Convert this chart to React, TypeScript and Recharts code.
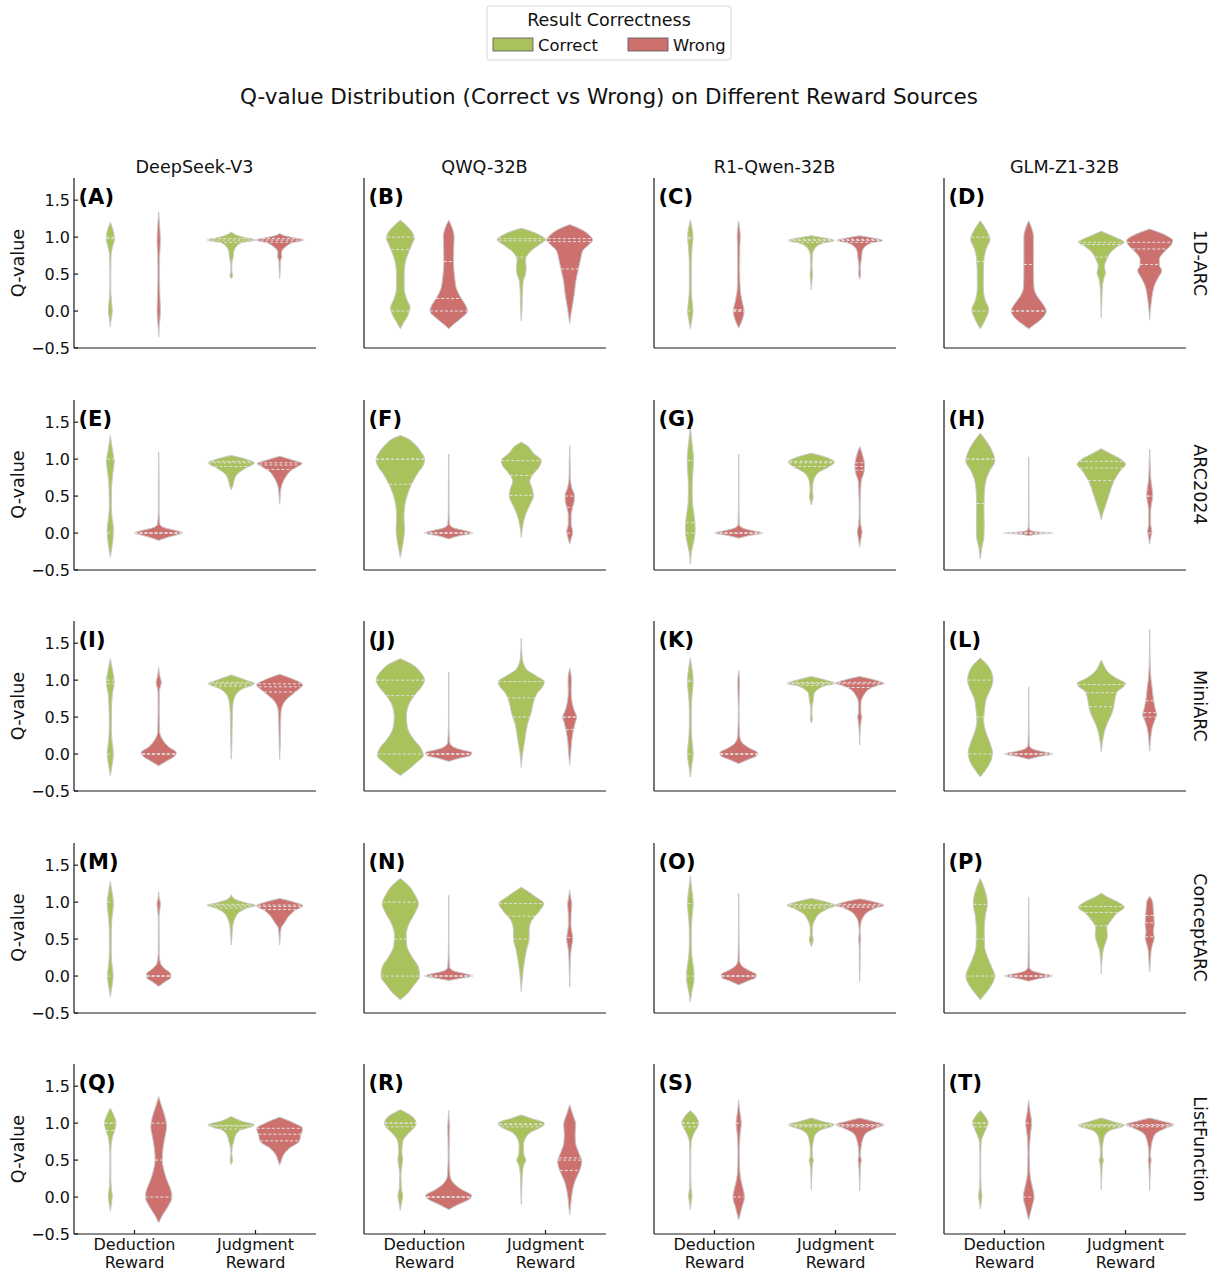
import React from 'react';
import { ComposedChart, Area, XAxis, YAxis, ReferenceLine } from 'recharts';

type Knot = [number, number]; // [Q-value, half width in category units]

const models = ['DeepSeek-V3', 'QWQ-32B', 'R1-Qwen-32B', 'GLM-Z1-32B'];
const datasets = ['1D-ARC', 'ARC2024', 'MiniARC', 'ConceptARC', 'ListFunction'];
const letters = 'ABCDEFGHIJKLMNOPQRST'.split('');
const rewardSources = [['Deduction', 'Reward'], ['Judgment', 'Reward']];
const hues = ['Correct', 'Wrong'];
const yTicks = [-0.5, 0, 0.5, 1, 1.5];

const GREEN = '#a9c25b';
const RED = '#cd716e';
const FONT = 'DejaVu Sans, Verdana, sans-serif';

// violin outlines; order: deduction-correct, deduction-wrong, judgment-correct, judgment-wrong
const panelA: Knot[][] = [
  [[-0.21, 0], [-0.12, 0.006], [0, 0.016], [0.1, 0.012], [0.25, 0.004], [0.5, 0.003], [0.75, 0.006], [0.88, 0.02], [0.98, 0.035], [1.08, 0.025], [1.2, 0]],
  [[-0.35, 0], [-0.2, 0.005], [0, 0.014], [0.2, 0.01], [0.5, 0.006], [0.75, 0.008], [0.95, 0.014], [1.15, 0.008], [1.34, 0]],
  [[0.44, 0], [0.48, 0.012], [0.53, 0.004], [0.65, 0.005], [0.73, 0.016], [0.8, 0.02], [0.88, 0.045], [0.93, 0.1], [0.96, 0.2], [0.99, 0.12], [1.03, 0.04], [1.07, 0]],
  [[0.44, 0], [0.55, 0.004], [0.68, 0.006], [0.73, 0.018], [0.79, 0.015], [0.87, 0.05], [0.93, 0.12], [0.96, 0.2], [0.99, 0.12], [1.02, 0.04], [1.05, 0]],
];
const panelB: Knot[][] = [
  [[-0.24, 0], [-0.15, 0.03], [-0.05, 0.065], [0.05, 0.08], [0.15, 0.055], [0.3, 0.032], [0.5, 0.032], [0.65, 0.04], [0.8, 0.07], [0.92, 0.1], [0.98, 0.115], [1.06, 0.1], [1.15, 0.055], [1.23, 0]],
  [[-0.24, 0], [-0.18, 0.04], [-0.1, 0.1], [0, 0.155], [0.08, 0.14], [0.18, 0.1], [0.3, 0.065], [0.45, 0.05], [0.65, 0.04], [0.85, 0.042], [1.0, 0.045], [1.12, 0.03], [1.23, 0]],
  [[-0.13, 0], [0.0, 0.005], [0.2, 0.008], [0.4, 0.015], [0.5, 0.035], [0.58, 0.04], [0.68, 0.035], [0.8, 0.07], [0.9, 0.15], [0.965, 0.2], [1.03, 0.15], [1.08, 0.08], [1.12, 0]],
  [[-0.17, 0], [-0.05, 0.01], [0.1, 0.025], [0.25, 0.04], [0.4, 0.05], [0.55, 0.07], [0.7, 0.09], [0.82, 0.11], [0.9, 0.16], [0.96, 0.19], [1.03, 0.16], [1.1, 0.1], [1.17, 0]],
];
const panelC: Knot[][] = [
  [[-0.24, 0], [-0.12, 0.012], [0, 0.022], [0.12, 0.015], [0.3, 0.008], [0.6, 0.008], [0.85, 0.014], [1.0, 0.022], [1.12, 0.014], [1.23, 0]],
  [[-0.23, 0], [-0.14, 0.025], [0, 0.045], [0.12, 0.03], [0.3, 0.012], [0.6, 0.008], [0.9, 0.01], [1.0, 0.013], [1.12, 0.008], [1.22, 0]],
  [[0.29, 0], [0.4, 0.005], [0.5, 0.01], [0.6, 0.005], [0.75, 0.008], [0.85, 0.03], [0.92, 0.1], [0.955, 0.19], [0.985, 0.12], [1.02, 0]],
  [[0.43, 0], [0.5, 0.008], [0.6, 0.006], [0.72, 0.015], [0.8, 0.02], [0.88, 0.05], [0.93, 0.12], [0.955, 0.19], [0.985, 0.12], [1.02, 0]],
];
const panelD: Knot[][] = [
  [[-0.24, 0], [-0.12, 0.04], [0.02, 0.07], [0.15, 0.04], [0.3, 0.025], [0.5, 0.025], [0.7, 0.03], [0.85, 0.05], [0.97, 0.08], [1.08, 0.055], [1.22, 0]],
  [[-0.24, 0], [-0.18, 0.05], [-0.1, 0.11], [0, 0.145], [0.1, 0.115], [0.2, 0.07], [0.3, 0.045], [0.5, 0.04], [0.8, 0.04], [1.0, 0.04], [1.12, 0.025], [1.22, 0]],
  [[-0.09, 0], [0.1, 0.004], [0.3, 0.008], [0.43, 0.018], [0.52, 0.035], [0.6, 0.025], [0.7, 0.045], [0.8, 0.08], [0.88, 0.14], [0.93, 0.19], [0.98, 0.14], [1.03, 0.07], [1.08, 0]],
  [[-0.125, 0], [0.05, 0.008], [0.2, 0.02], [0.35, 0.04], [0.45, 0.07], [0.55, 0.1], [0.62, 0.08], [0.7, 0.08], [0.8, 0.12], [0.9, 0.18], [0.955, 0.19], [1.02, 0.14], [1.11, 0]],
];
const panelE: Knot[][] = [
  [[-0.33, 0], [-0.2, 0.012], [-0.05, 0.024], [0.05, 0.026], [0.2, 0.015], [0.4, 0.008], [0.6, 0.01], [0.8, 0.02], [0.97, 0.032], [1.1, 0.02], [1.32, 0]],
  [[-0.1, 0], [-0.06, 0.07], [-0.02, 0.16], [0.0, 0.2], [0.03, 0.15], [0.07, 0.05], [0.12, 0.01], [0.3, 0.003], [0.7, 0.003], [1.09, 0]],
  [[0.585, 0], [0.65, 0.015], [0.72, 0.025], [0.8, 0.05], [0.88, 0.12], [0.95, 0.19], [1.0, 0.12], [1.05, 0]],
  [[0.39, 0], [0.5, 0.005], [0.6, 0.01], [0.68, 0.025], [0.76, 0.05], [0.84, 0.09], [0.9, 0.15], [0.94, 0.185], [0.99, 0.1], [1.04, 0]],
];
const panelF: Knot[][] = [
  [[-0.33, 0], [-0.2, 0.015], [-0.05, 0.03], [0.05, 0.035], [0.2, 0.03], [0.35, 0.035], [0.5, 0.055], [0.65, 0.09], [0.8, 0.14], [0.92, 0.19], [1.0, 0.2], [1.1, 0.17], [1.2, 0.12], [1.28, 0.06], [1.32, 0]],
  [[-0.08, 0], [-0.04, 0.08], [0, 0.2], [0.03, 0.14], [0.07, 0.04], [0.12, 0.008], [0.3, 0.003], [0.8, 0.002], [1.07, 0]],
  [[-0.06, 0], [0.1, 0.012], [0.25, 0.035], [0.38, 0.07], [0.5, 0.1], [0.6, 0.09], [0.7, 0.07], [0.8, 0.1], [0.9, 0.15], [0.98, 0.165], [1.08, 0.1], [1.18, 0.05], [1.23, 0]],
  [[-0.15, 0], [-0.08, 0.012], [0.02, 0.025], [0.12, 0.012], [0.25, 0.012], [0.35, 0.025], [0.45, 0.038], [0.52, 0.038], [0.6, 0.02], [0.75, 0.005], [1.0, 0.003], [1.18, 0]],
];
const panelG: Knot[][] = [
  [[-0.42, 0], [-0.25, 0.01], [-0.1, 0.03], [0.05, 0.04], [0.2, 0.035], [0.4, 0.018], [0.6, 0.015], [0.8, 0.02], [1.0, 0.026], [1.2, 0.015], [1.43, 0]],
  [[-0.07, 0], [-0.03, 0.1], [0, 0.2], [0.03, 0.12], [0.07, 0.03], [0.12, 0.005], [0.4, 0.002], [1.07, 0]],
  [[0.38, 0], [0.45, 0.01], [0.5, 0.015], [0.56, 0.01], [0.65, 0.012], [0.74, 0.025], [0.82, 0.06], [0.9, 0.15], [0.96, 0.19], [1.02, 0.13], [1.08, 0]],
  [[-0.19, 0], [-0.08, 0.01], [0.02, 0.02], [0.12, 0.008], [0.3, 0.004], [0.5, 0.006], [0.7, 0.012], [0.82, 0.035], [0.92, 0.04], [1.02, 0.03], [1.17, 0]],
];
const panelH: Knot[][] = [
  [[-0.35, 0], [-0.2, 0.012], [-0.05, 0.03], [0.1, 0.032], [0.3, 0.03], [0.5, 0.032], [0.7, 0.045], [0.85, 0.08], [0.97, 0.12], [1.1, 0.1], [1.22, 0.06], [1.35, 0]],
  [[-0.035, 0], [-0.015, 0.08], [0, 0.2], [0.015, 0.08], [0.04, 0.01], [0.1, 0.003], [0.5, 0.002], [1.03, 0]],
  [[0.18, 0], [0.25, 0.01], [0.35, 0.03], [0.45, 0.05], [0.55, 0.07], [0.65, 0.09], [0.75, 0.12], [0.85, 0.16], [0.93, 0.2], [1.0, 0.16], [1.07, 0.08], [1.14, 0]],
  [[-0.15, 0], [-0.05, 0.01], [0.02, 0.018], [0.12, 0.008], [0.3, 0.008], [0.42, 0.018], [0.5, 0.026], [0.6, 0.02], [0.75, 0.008], [0.95, 0.004], [1.135, 0]],
];
const panelI: Knot[][] = [
  [[-0.29, 0], [-0.15, 0.014], [0, 0.026], [0.15, 0.016], [0.35, 0.008], [0.6, 0.01], [0.8, 0.016], [0.97, 0.032], [1.12, 0.02], [1.29, 0]],
  [[-0.16, 0], [-0.1, 0.06], [-0.03, 0.13], [0.02, 0.145], [0.1, 0.08], [0.2, 0.03], [0.3, 0.008], [0.6, 0.005], [0.85, 0.006], [0.97, 0.022], [1.05, 0.01], [1.17, 0]],
  [[-0.07, 0], [0.1, 0.004], [0.3, 0.006], [0.5, 0.008], [0.65, 0.012], [0.78, 0.03], [0.88, 0.09], [0.955, 0.19], [1.0, 0.12], [1.07, 0]],
  [[-0.07, 0], [0.1, 0.004], [0.3, 0.006], [0.55, 0.01], [0.68, 0.03], [0.76, 0.07], [0.84, 0.13], [0.94, 0.19], [1.0, 0.13], [1.08, 0]],
];
const panelJ: Knot[][] = [
  [[-0.29, 0], [-0.22, 0.06], [-0.12, 0.13], [-0.02, 0.19], [0.08, 0.17], [0.2, 0.11], [0.35, 0.06], [0.5, 0.05], [0.65, 0.065], [0.8, 0.12], [0.92, 0.18], [1.0, 0.2], [1.12, 0.16], [1.22, 0.09], [1.29, 0]],
  [[-0.1, 0], [-0.06, 0.08], [-0.02, 0.18], [0.02, 0.19], [0.06, 0.1], [0.1, 0.035], [0.16, 0.008], [0.4, 0.002], [1.11, 0]],
  [[-0.18, 0], [0.0, 0.01], [0.2, 0.03], [0.4, 0.05], [0.55, 0.08], [0.7, 0.1], [0.82, 0.13], [0.92, 0.18], [0.98, 0.19], [1.06, 0.12], [1.15, 0.04], [1.3, 0.008], [1.57, 0]],
  [[-0.15, 0], [0.0, 0.008], [0.15, 0.015], [0.3, 0.028], [0.42, 0.045], [0.5, 0.058], [0.6, 0.035], [0.7, 0.02], [0.85, 0.012], [1.0, 0.014], [1.16, 0]],
];
const panelK: Knot[][] = [
  [[-0.31, 0], [-0.15, 0.012], [0, 0.024], [0.15, 0.016], [0.35, 0.008], [0.6, 0.008], [0.8, 0.014], [0.98, 0.024], [1.15, 0.014], [1.3, 0]],
  [[-0.13, 0], [-0.08, 0.07], [-0.02, 0.15], [0.02, 0.155], [0.08, 0.09], [0.15, 0.03], [0.25, 0.008], [0.6, 0.003], [0.97, 0.008], [1.13, 0]],
  [[0.42, 0], [0.48, 0.008], [0.55, 0.004], [0.65, 0.006], [0.72, 0.016], [0.8, 0.02], [0.87, 0.05], [0.93, 0.13], [0.955, 0.2], [1.0, 0.12], [1.05, 0]],
  [[0.12, 0], [0.3, 0.004], [0.45, 0.012], [0.5, 0.018], [0.56, 0.01], [0.68, 0.01], [0.8, 0.035], [0.88, 0.08], [0.93, 0.15], [0.955, 0.2], [1.0, 0.13], [1.05, 0]],
];
const panelL: Knot[][] = [
  [[-0.31, 0], [-0.2, 0.05], [-0.08, 0.09], [0.02, 0.1], [0.15, 0.08], [0.3, 0.045], [0.45, 0.028], [0.6, 0.035], [0.75, 0.05], [0.9, 0.09], [1.0, 0.105], [1.12, 0.09], [1.22, 0.05], [1.3, 0]],
  [[-0.07, 0], [-0.03, 0.1], [0, 0.2], [0.03, 0.12], [0.07, 0.03], [0.12, 0.006], [0.4, 0.002], [0.91, 0]],
  [[0.03, 0], [0.15, 0.008], [0.3, 0.025], [0.42, 0.05], [0.52, 0.08], [0.62, 0.1], [0.72, 0.11], [0.84, 0.13], [0.92, 0.19], [0.955, 0.2], [1.02, 0.13], [1.1, 0.06], [1.2, 0.02], [1.27, 0]],
  [[0.04, 0], [0.2, 0.008], [0.35, 0.02], [0.45, 0.04], [0.53, 0.058], [0.62, 0.045], [0.75, 0.03], [0.9, 0.02], [1.0, 0.012], [1.2, 0.004], [1.69, 0]],
];
const panelM: Knot[][] = [
  [[-0.28, 0], [-0.15, 0.012], [0, 0.024], [0.15, 0.014], [0.35, 0.007], [0.6, 0.008], [0.8, 0.014], [0.98, 0.026], [1.12, 0.016], [1.28, 0]],
  [[-0.14, 0], [-0.08, 0.05], [-0.02, 0.1], [0.03, 0.1], [0.1, 0.05], [0.17, 0.015], [0.3, 0.004], [0.8, 0.003], [0.98, 0.015], [1.05, 0.005], [1.14, 0]],
  [[0.42, 0], [0.55, 0.006], [0.68, 0.012], [0.78, 0.03], [0.87, 0.07], [0.93, 0.15], [0.955, 0.2], [0.99, 0.12], [1.04, 0.03], [1.1, 0]],
  [[0.42, 0], [0.55, 0.005], [0.65, 0.012], [0.72, 0.04], [0.8, 0.07], [0.88, 0.12], [0.955, 0.19], [1.0, 0.12], [1.05, 0]],
];
const panelN: Knot[][] = [
  [[-0.32, 0], [-0.25, 0.05], [-0.13, 0.11], [0, 0.16], [0.12, 0.15], [0.25, 0.1], [0.4, 0.055], [0.55, 0.048], [0.7, 0.07], [0.85, 0.12], [0.98, 0.15], [1.1, 0.12], [1.22, 0.07], [1.32, 0]],
  [[-0.06, 0], [-0.03, 0.1], [0, 0.2], [0.03, 0.14], [0.07, 0.04], [0.12, 0.008], [0.4, 0.002], [1.09, 0]],
  [[-0.21, 0], [0.0, 0.01], [0.2, 0.026], [0.37, 0.045], [0.5, 0.065], [0.62, 0.065], [0.75, 0.085], [0.88, 0.15], [0.98, 0.185], [1.08, 0.11], [1.15, 0.05], [1.2, 0]],
  [[-0.15, 0], [0.1, 0.004], [0.3, 0.008], [0.42, 0.018], [0.5, 0.026], [0.58, 0.02], [0.7, 0.01], [0.85, 0.012], [0.97, 0.018], [1.05, 0.01], [1.16, 0]],
];
const panelO: Knot[][] = [
  [[-0.35, 0], [-0.2, 0.014], [-0.05, 0.03], [0.05, 0.03], [0.2, 0.018], [0.4, 0.008], [0.6, 0.008], [0.8, 0.014], [0.98, 0.024], [1.15, 0.014], [1.35, 0]],
  [[-0.12, 0], [-0.07, 0.07], [-0.02, 0.14], [0.02, 0.145], [0.08, 0.08], [0.14, 0.025], [0.22, 0.006], [0.6, 0.002], [1.12, 0]],
  [[0.4, 0], [0.46, 0.012], [0.5, 0.016], [0.56, 0.008], [0.66, 0.01], [0.76, 0.03], [0.85, 0.07], [0.92, 0.15], [0.955, 0.2], [1.0, 0.13], [1.05, 0]],
  [[-0.07, 0], [0.1, 0.003], [0.4, 0.004], [0.5, 0.008], [0.6, 0.004], [0.72, 0.01], [0.8, 0.03], [0.87, 0.07], [0.93, 0.15], [0.955, 0.2], [1.0, 0.13], [1.045, 0]],
];
const panelP: Knot[][] = [
  [[-0.32, 0], [-0.22, 0.05], [-0.1, 0.1], [0, 0.12], [0.1, 0.1], [0.25, 0.06], [0.4, 0.035], [0.6, 0.032], [0.8, 0.04], [0.98, 0.058], [1.12, 0.045], [1.32, 0]],
  [[-0.07, 0], [-0.03, 0.1], [0, 0.2], [0.03, 0.12], [0.07, 0.03], [0.12, 0.006], [0.5, 0.003], [1.07, 0]],
  [[0.03, 0], [0.2, 0.005], [0.35, 0.015], [0.45, 0.035], [0.55, 0.05], [0.65, 0.045], [0.75, 0.08], [0.85, 0.13], [0.93, 0.19], [1.0, 0.14], [1.07, 0.05], [1.12, 0]],
  [[0.06, 0], [0.2, 0.006], [0.35, 0.012], [0.45, 0.028], [0.52, 0.038], [0.6, 0.03], [0.7, 0.038], [0.8, 0.035], [0.9, 0.03], [1.0, 0.025], [1.08, 0]],
];
const panelQ: Knot[][] = [
  [[-0.19, 0], [-0.08, 0.01], [0.02, 0.016], [0.12, 0.008], [0.3, 0.004], [0.6, 0.004], [0.8, 0.015], [0.9, 0.035], [1.0, 0.048], [1.1, 0.03], [1.2, 0]],
  [[-0.35, 0], [-0.25, 0.03], [-0.12, 0.08], [0, 0.11], [0.1, 0.1], [0.22, 0.07], [0.35, 0.045], [0.5, 0.03], [0.65, 0.035], [0.8, 0.05], [0.95, 0.065], [1.1, 0.05], [1.25, 0.02], [1.36, 0]],
  [[0.44, 0], [0.5, 0.01], [0.58, 0.004], [0.68, 0.008], [0.75, 0.02], [0.82, 0.03], [0.9, 0.07], [0.975, 0.19], [1.03, 0.08], [1.09, 0]],
  [[0.43, 0], [0.5, 0.015], [0.58, 0.035], [0.66, 0.08], [0.75, 0.16], [0.84, 0.175], [0.93, 0.19], [1.0, 0.12], [1.05, 0.05], [1.08, 0]],
];
const panelR: Knot[][] = [
  [[-0.18, 0], [-0.08, 0.01], [0.02, 0.02], [0.12, 0.008], [0.3, 0.005], [0.45, 0.015], [0.52, 0.02], [0.6, 0.012], [0.75, 0.02], [0.86, 0.065], [0.95, 0.12], [1.0, 0.13], [1.1, 0.09], [1.18, 0]],
  [[-0.17, 0], [-0.1, 0.08], [-0.03, 0.17], [0.02, 0.19], [0.1, 0.11], [0.18, 0.045], [0.3, 0.01], [0.6, 0.004], [0.95, 0.008], [1.05, 0.004], [1.17, 0]],
  [[-0.1, 0], [0.1, 0.004], [0.3, 0.008], [0.43, 0.02], [0.5, 0.038], [0.58, 0.02], [0.7, 0.018], [0.8, 0.035], [0.88, 0.08], [0.95, 0.17], [1.0, 0.19], [1.06, 0.09], [1.11, 0]],
  [[-0.24, 0], [-0.05, 0.012], [0.1, 0.025], [0.22, 0.045], [0.35, 0.08], [0.48, 0.1], [0.6, 0.075], [0.72, 0.05], [0.85, 0.045], [0.98, 0.05], [1.12, 0.025], [1.25, 0]],
];
const panelS: Knot[][] = [
  [[-0.17, 0], [-0.06, 0.008], [0.02, 0.014], [0.12, 0.006], [0.3, 0.003], [0.6, 0.004], [0.75, 0.008], [0.86, 0.03], [0.95, 0.06], [1.0, 0.07], [1.08, 0.05], [1.17, 0]],
  [[-0.31, 0], [-0.15, 0.025], [0, 0.048], [0.12, 0.035], [0.25, 0.016], [0.4, 0.008], [0.6, 0.006], [0.85, 0.012], [1.0, 0.022], [1.15, 0.01], [1.31, 0]],
  [[0.1, 0], [0.3, 0.004], [0.45, 0.01], [0.5, 0.018], [0.55, 0.008], [0.65, 0.008], [0.75, 0.016], [0.82, 0.025], [0.9, 0.07], [0.98, 0.19], [1.02, 0.1], [1.07, 0]],
  [[0.085, 0], [0.3, 0.004], [0.45, 0.008], [0.5, 0.014], [0.56, 0.006], [0.68, 0.012], [0.78, 0.025], [0.86, 0.05], [0.93, 0.13], [0.98, 0.2], [1.02, 0.12], [1.07, 0]],
];
const panelT: Knot[][] = [
  [[-0.16, 0], [-0.06, 0.008], [0.02, 0.014], [0.12, 0.006], [0.3, 0.003], [0.6, 0.004], [0.75, 0.008], [0.86, 0.03], [0.95, 0.055], [1.0, 0.065], [1.08, 0.045], [1.17, 0]],
  [[-0.31, 0], [-0.15, 0.024], [0, 0.045], [0.12, 0.033], [0.25, 0.015], [0.4, 0.008], [0.6, 0.006], [0.85, 0.014], [1.0, 0.025], [1.15, 0.012], [1.31, 0]],
  [[0.1, 0], [0.3, 0.004], [0.45, 0.01], [0.5, 0.018], [0.55, 0.008], [0.65, 0.008], [0.75, 0.016], [0.82, 0.025], [0.9, 0.07], [0.97, 0.19], [1.02, 0.1], [1.07, 0]],
  [[0.09, 0], [0.3, 0.004], [0.45, 0.008], [0.5, 0.012], [0.56, 0.006], [0.68, 0.012], [0.78, 0.025], [0.86, 0.05], [0.93, 0.13], [0.98, 0.2], [1.02, 0.12], [1.07, 0]],
];

// quartile lines (q1, median, q3) per violin
const quartiles: number[][][] = [
  [[0.6, 0.98, 1.0], [0.0, 0.68, 1.0], [0.93, 0.96, 0.98], [0.93, 0.96, 0.98]],
  [[0.0, 0.83, 1.0], [0.0, 0.17, 0.67], [0.73, 0.95, 0.98], [0.57, 0.94, 0.98]],
  [[0.0, 0.98, 1.0], [0.0, 0.0, 0.02], [0.93, 0.955, 0.97], [0.93, 0.955, 0.97]],
  [[0.0, 0.67, 1.0], [0.0, 0.0, 0.63], [0.73, 0.9, 0.93], [0.63, 0.84, 0.93]],
  [[0.0, 0.6, 1.0], [0.0, 0.0, 0.0], [0.9, 0.95, 0.97], [0.86, 0.92, 0.95]],
  [[0.66, 1.0, 1.0], [0.0, 0.0, 0.0], [0.51, 0.78, 0.98], [0.0, 0.35, 0.5]],
  [[0.0, 0.14, 0.98], [0.0, 0.0, 0.0], [0.9, 0.95, 0.97], [0.85, 0.9, 0.95]],
  [[0.4, 1.0, 1.0], [0.0, 0.0, 0.0], [0.71, 0.88, 0.97], [0.0, 0.5, 0.5]],
  [[0.0, 0.95, 1.0], [0.0, 0.0, 0.0], [0.92, 0.95, 0.97], [0.84, 0.91, 0.95]],
  [[0.0, 0.79, 1.0], [0.0, 0.0, 0.0], [0.5, 0.76, 0.98], [0.33, 0.5, 0.5]],
  [[0.0, 0.98, 1.0], [0.0, 0.0, 0.0], [0.93, 0.955, 0.97], [0.9, 0.95, 0.97]],
  [[0.0, 0.5, 1.0], [0.0, 0.0, 0.0], [0.64, 0.83, 0.94], [0.5, 0.56, 0.72]],
  [[0.0, 0.5, 1.0], [0.0, 0.0, 0.0], [0.92, 0.95, 0.97], [0.9, 0.94, 0.96]],
  [[0.0, 0.5, 1.0], [0.0, 0.0, 0.0], [0.5, 0.81, 0.98], [0.37, 0.52, 0.82]],
  [[0.0, 0.5, 0.98], [0.0, 0.0, 0.0], [0.92, 0.95, 0.97], [0.93, 0.95, 0.97]],
  [[0.0, 0.5, 0.97], [0.0, 0.0, 0.0], [0.68, 0.86, 0.94], [0.53, 0.72, 0.82]],
  [[0.9, 1.0, 1.0], [0.0, 0.5, 1.0], [0.92, 0.96, 0.97], [0.76, 0.85, 0.93]],
  [[0.95, 1.0, 1.0], [0.0, 0.0, 0.0], [0.95, 0.98, 0.99], [0.36, 0.5, 0.53]],
  [[0.95, 1.0, 1.0], [0.0, 0.5, 1.0], [0.95, 0.97, 0.98], [0.95, 0.97, 0.98]],
  [[0.95, 1.0, 1.0], [0.0, 0.5, 1.0], [0.95, 0.97, 0.98], [0.95, 0.97, 0.98]],
];

const panels = [panelA, panelB, panelC, panelD, panelE, panelF, panelG, panelH, panelI, panelJ,
  panelK, panelL, panelM, panelN, panelO, panelP, panelQ, panelR, panelS, panelT];

// layout
const PLOT_W = 242;
const PLOT_H = 170;
const Y_AXIS_W = 50;
const X_AXIS_H = 40;
const M_TOP = 5;
const M_RIGHT = 5;
const plotLeft = (col: number) => 73.5 + col * 290;
const plotTop = (row: number) => 178 + row * 221.5;

function halfWidthAt(knots: Knot[], q: number): number {
  for (let i = 0; i < knots.length - 1; i++) {
    const [q0, w0] = knots[i];
    const [q1, w1] = knots[i + 1];
    if (q >= q0 && q <= q1) return w0 + ((q - q0) / (q1 - q0)) * (w1 - w0);
  }
  return 0;
}

const fmtY = (v: number) => v.toFixed(1).replace('-', '\u2212');

const RewardTick = (props: any) => {
  const { x, y, payload } = props;
  const lines = rewardSources[payload.value] ?? [];
  return (
    <text x={x} y={y} textAnchor="middle" fill="#111" fontSize={16} fontFamily={FONT}>
      <tspan x={x} dy={16}>{lines[0]}</tspan>
      <tspan x={x} dy={18}>{lines[1]}</tspan>
    </text>
  );
};

function Panel({ idx }: { idx: number }) {
  const row = Math.floor(idx / 4);
  const col = idx % 4;
  const violins = panels[idx];
  const quarts = quartiles[idx];
  const axisStroke = { stroke: '#1a1a1a', strokeWidth: 1.2 };

  return (
    <div style={{ position: 'absolute', left: plotLeft(col) - Y_AXIS_W, top: plotTop(row) - M_TOP }}>
      <ComposedChart
        layout="vertical"
        width={Y_AXIS_W + PLOT_W + M_RIGHT}
        height={M_TOP + PLOT_H + X_AXIS_H}
        margin={{ top: M_TOP, right: M_RIGHT, bottom: 0, left: 0 }}
      >
        <XAxis
          type="number"
          domain={[-0.5, 1.5]}
          ticks={[0, 1]}
          allowDataOverflow
          height={X_AXIS_H}
          axisLine={axisStroke}
          tickLine={axisStroke}
          tickSize={-4}
          tickMargin={4}
          tick={row === 4 ? <RewardTick /> : false}
        />
        <YAxis
          type="number"
          dataKey="q"
          domain={[-0.5, 1.8]}
          ticks={yTicks}
          allowDataOverflow
          reversed
          width={Y_AXIS_W}
          axisLine={axisStroke}
          tickLine={axisStroke}
          tickSize={-4}
          tickMargin={8}
          tickFormatter={fmtY}
          tick={col === 0 ? { fill: '#111', fontSize: 16, fontFamily: FONT } : false}
        />
        {violins.map((knots, i) => {
          const cat = Math.floor(i / 2);
          const center = cat + (i % 2 === 0 ? -0.2 : 0.2);
          const data = [...knots].reverse().map(([q, w]) => ({ q, band: [center - w, center + w] }));
          return (
            <Area
              key={`v${i}`}
              name={hues[i % 2]}
              data={data}
              dataKey="band"
              type="monotone"
              fill={i % 2 === 0 ? GREEN : RED}
              fillOpacity={1}
              stroke="#c9c9c9"
              strokeWidth={1}
              dot={false}
              activeDot={false}
              isAnimationActive={false}
            />
          );
        })}
        {violins.flatMap((knots, i) => {
          const cat = Math.floor(i / 2);
          const center = cat + (i % 2 === 0 ? -0.2 : 0.2);
          return quarts[i].map((q, k) => {
            const w = halfWidthAt(knots, q);
            if (w < 0.015) return null;
            return (
              <ReferenceLine
                key={`q${i}-${k}`}
                segment={[{ x: center - w, y: q }, { x: center + w, y: q }]}
                stroke="#e2e2e2"
                strokeWidth={1}
                strokeDasharray="3 2"
              />
            );
          });
        })}
      </ComposedChart>
    </div>
  );
}

export default function App() {
  return (
    <div style={{ position: 'absolute', left: 0, top: 0, width: 1223, height: 1275, background: '#fff', fontFamily: FONT }}>
      {panels.map((_, i) => (
        <Panel key={i} idx={i} />
      ))}
      <svg width={1223} height={1275} style={{ position: 'absolute', left: 0, top: 0, pointerEvents: 'none' }} fontFamily={FONT}>
        {/* legend */}
        <rect x={487} y={6} width={244} height={54} rx={3} fill="#fff" stroke="#d6d6d6" />
        <text x={609} y={26} textAnchor="middle" fontSize={17.5} fill="#111">Result Correctness</text>
        <rect x={493} y={38} width={40} height={13} fill={GREEN} stroke="#555" strokeWidth={0.8} />
        <text x={538} y={51} fontSize={16.4} fill="#111">{hues[0]}</text>
        <rect x={628} y={38} width={40} height={13} fill={RED} stroke="#555" strokeWidth={0.8} />
        <text x={673} y={51} fontSize={16.4} fill="#111">{hues[1]}</text>

        <text x={609} y={104} textAnchor="middle" fontSize={21.5} fill="#111">
          Q-value Distribution (Correct vs Wrong) on Different Reward Sources
        </text>

        {models.map((m, c) => (
          <text key={m} x={plotLeft(c) + PLOT_W / 2} y={173} textAnchor="middle" fontSize={17.6} fill="#111">{m}</text>
        ))}
        {datasets.map((d, r) => (
          <text key={d} x={1194} y={plotTop(r) + PLOT_H / 2} textAnchor="middle" fontSize={17.6} fill="#111"
            transform={`rotate(90 1194 ${plotTop(r) + PLOT_H / 2})`}>{d}</text>
        ))}
        {datasets.map((d, r) => (
          <text key={`y${d}`} x={24} y={plotTop(r) + PLOT_H / 2} textAnchor="middle" fontSize={17.6} fill="#111"
            transform={`rotate(-90 24 ${plotTop(r) + PLOT_H / 2})`}>Q-value</text>
        ))}
        {letters.map((l, i) => (
          <text key={l} x={plotLeft(i % 4) + 5} y={plotTop(Math.floor(i / 4)) + 26} fontSize={21} fontWeight="bold" fill="#000">
            ({l})
          </text>
        ))}
      </svg>
    </div>
  );
}
